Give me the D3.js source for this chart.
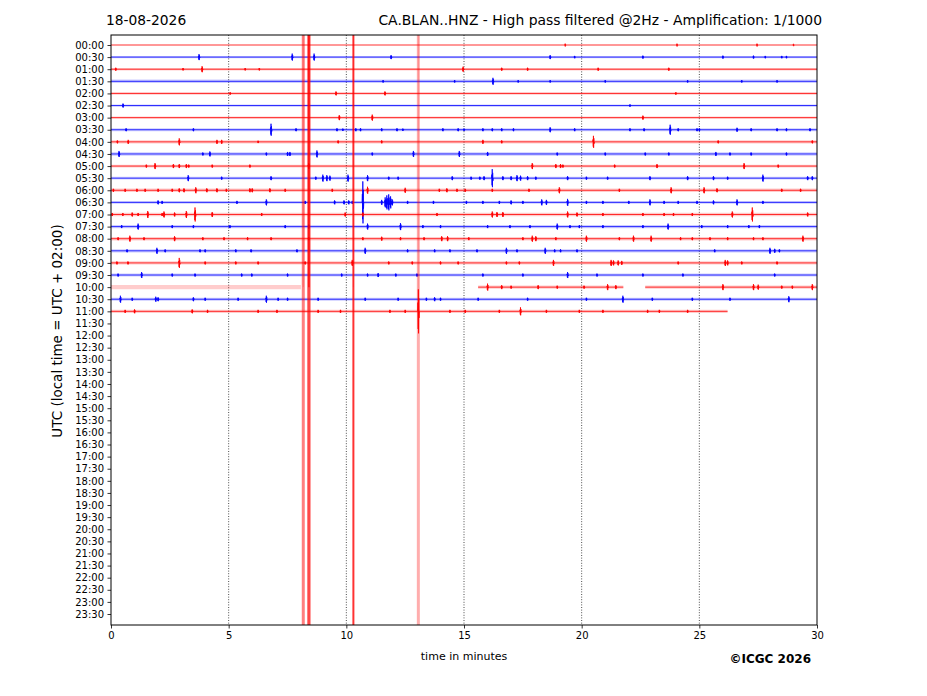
<!DOCTYPE html>
<html><head><meta charset="utf-8">
<script src="https://cdn.jsdelivr.net/npm/d3@7"></script>
<style>body{margin:0;background:#fff} svg{display:block} text{font-family:"DejaVu Sans",sans-serif}</style>
</head><body><svg id="c" width="927" height="696"></svg>
<script>
// ---------------- DATA ----------------
const rowLabels = ["00:00","00:30","01:00","01:30","02:00","02:30","03:00","03:30","04:00","04:30","05:00","05:30","06:00","06:30","07:00","07:30","08:00","08:30","09:00","09:30","10:00","10:30","11:00","11:30","12:00","12:30","13:00","13:30","14:00","14:30","15:00","15:30","16:00","16:30","17:00","17:30","18:00","18:30","19:00","19:30","20:00","20:30","21:00","21:30","22:00","22:30","23:00","23:30"];
const xTicks = [0,5,10,15,20,25,30];
const gridMinutes = [5,10,15,20,25];
const traceColors = ["#ff0000","#0000ff"];
// recorded segments per row (minutes)
const segments = [
 [[0,30]],[[0,30]],[[0,30]],[[0,30]],[[0,30]],[[0,30]],[[0,30]],[[0,30]],[[0,30]],[[0,30]],
 [[0,30]],[[0,30]],[[0,30]],[[0,30]],[[0,30]],[[0,30]],[[0,30]],[[0,30]],[[0,30]],[[0,30]],
 [[0,8.07],[15.6,21.77],[22.7,30]],[[0,30]],[[0,26.2]]
];
// background noise level per row (counts)
const noise = [0.4,0.8,0.9,1.5,0.9,0.8,0.9,1.1,1.4,1.5,1.1,1,1.4,1.1,1.5,1.4,1.4,1.3,1.3,1.2,1.3,1.3,1.3];
// events per row: [minute, amplitude in counts]
const events = [
 [[19.3,1.5],[24.05,1.5],[27.45,1.5],[29.0,1.2]],
 [[3.74,3],[7.7,3.5],[8.63,3.5],[11.9,2],[18.66,2],[19.7,1.2],[22.6,1.5],[26.0,1.5],[27.3,1.5],[27.8,1.2],[28.5,1.2],[28.7,1.2]],
 [[0.2,1.5],[3.06,1.2],[3.87,3],[5.7,1.2],[6.3,1.2],[14.96,2.5],[16.6,1.5],[17.7,1.5],[20.7,1.5],[23.7,1.5]],
 [[11.56,1.2],[14.6,1.2],[16.23,3.5],[17.3,1.2],[18.66,1.2],[21.0,1.2],[24.5,1.2],[26.8,1.2],[28.3,1.2]],
 [[5.06,1.2],[9.56,2],[11.64,2],[24.0,1.2]],
 [[0.51,2],[22.05,1.2]],
 [[9.7,2.5],[11.1,3],[22.6,2]],
 [[0.64,1.5],[3.5,1.5],[6.8,6],[7.86,1.5],[9.6,1.5],[9.85,1.2],[10.4,1.5],[10.6,1.5],[11.5,1.5],[12.15,1.5],[12.4,1.2],[14.1,1.5],[14.75,1.5],[15.0,1.2],[15.8,1.5],[16.2,1.5],[16.6,1.5],[17.1,1.5],[18.66,2.5],[19.7,1.5],[22.05,1.5],[22.65,1.5],[23.76,5],[24.1,1.5],[24.9,1.5],[25.0,1.5],[26.6,2],[27.2,1.5],[28.3,1.5],[28.7,1.5],[29.7,1.5]],
 [[0.27,1.5],[0.73,2],[2.9,3.5],[4.5,2],[4.7,2],[6.25,1.2],[9.65,1.5],[11.5,1.5],[15.8,2],[16.6,1.5],[20.5,6],[25.8,1.5],[29.8,1.5]],
 [[0.34,3],[3.9,1.5],[4.2,2.5],[6.6,1.5],[7.5,2],[7.6,2],[8.75,3.5],[11.1,1.5],[12.85,3],[14.8,3],[16.0,2],[18.96,1.5],[21.0,1.5],[22.7,1.5],[23.7,1.5],[25.7,2],[26.3,1.5],[27.2,1.5],[28.7,1.5]],
 [[1.5,1.5],[1.87,3],[2.65,2],[2.9,2],[3.2,2],[3.3,1.5],[4.3,1.5],[5.9,1.5],[8.4,3],[17.9,3],[18.9,2],[19.1,2],[19.2,1.5],[21.4,1.5],[23.2,2],[26.9,3],[28.35,1.5]],
 [[3.28,3],[4.7,1.5],[6.8,2],[8.7,1.5],[9.0,3.5],[9.17,3],[9.3,2.5],[10.07,3.5],[10.9,3],[11.8,1.5],[12.2,1.5],[14.5,2],[15.3,1.5],[15.67,1.5],[15.85,2],[16.2,9],[16.65,2],[17.0,2],[17.25,3],[17.4,2.5],[17.7,2],[18.05,1.5],[19.4,2],[20.2,1.5],[21.1,1.5],[22.9,2],[24.5,2],[25.6,2],[26.2,1.5],[27.7,3.5],[29.6,2],[29.8,2]],
 [[0.1,1.5],[0.6,1.5],[1.1,1.5],[1.45,1.5],[2.0,1.5],[2.6,1.5],[2.9,2],[3.1,2],[3.6,3],[4.07,2],[4.5,2],[4.9,1.5],[5.9,2],[6.0,2],[6.75,2],[7.4,1.5],[9.4,1.5],[10.9,3.5],[12.5,2.5],[13.95,1.5],[14.27,2],[14.7,1.5],[15.05,1.5],[16.2,1.5],[17.76,1.5],[19.05,3],[21.6,1.5],[23.8,3],[25.2,3],[25.75,2],[28.5,1.5],[29.3,1.5]],
 [[2.0,2],[2.17,1.5],[5.35,1.5],[6.6,3],[8.25,1.5],[9.5,2],[9.9,2],[10.1,2],[10.25,1.5],[10.7,21],[11.5,2.5],[11.65,5],[11.72,7],[11.8,8],[11.88,6],[11.95,3],[12.6,1.5],[13.7,1.5],[15.1,1.5],[15.8,1.5],[16.5,1.5],[17.0,2],[17.5,1.5],[18.3,3],[18.5,2.5],[19.4,3.5],[20.2,1.5],[20.9,1.5],[22.0,1.5],[22.9,3],[23.5,1.5],[24.1,1.5],[24.9,1.5],[25.6,2],[26.6,3],[27.7,1.5]],
 [[0.05,1.5],[0.5,1.5],[0.9,2],[1.15,1.5],[1.56,3.5],[2.17,1.5],[2.25,3],[2.7,2],[3.2,3.5],[3.57,7],[4.3,2.5],[6.4,1.5],[9.95,2],[10.7,2],[13.85,1.5],[16.2,3],[16.4,2.5],[16.65,2.5],[19.4,3],[19.8,2],[20.9,1.5],[22.6,1.5],[23.5,1.5],[23.9,1.5],[24.7,1.5],[26.4,3],[27.25,7],[29.6,2]],
 [[0.45,1.5],[1.15,3],[2.6,1.5],[3.5,1.5],[5.05,1.5],[7.4,1.5],[8.4,2],[10.9,3],[12.3,3.5],[13.25,1.5],[14.0,1.5],[16.0,1.5],[16.95,1.5],[17.8,1.5],[18.96,3],[19.5,1.5],[19.9,1.5],[20.9,1.5],[22.6,1.5],[23.67,3],[25.1,1.5],[26.2,1.5],[27.1,1.5],[27.55,1.5]],
 [[0.3,1.5],[0.8,3],[1.4,1.5],[2.7,2.5],[3.9,1.5],[4.8,1.5],[5.8,1.5],[6.8,1.5],[8.4,1.5],[10.7,1.5],[11.5,2],[12.3,1.5],[13.3,1.5],[14.05,2.5],[14.3,2.5],[15.2,1.5],[17.5,1.5],[17.9,3],[18.05,2.5],[18.9,1.5],[20.2,3],[21.6,1.5],[22.2,3],[22.95,3],[24.2,1.5],[24.7,1.5],[25.45,1.5],[26.2,1.5],[27.3,1.5],[27.7,1.5],[29.4,3]],
 [[0.68,1.5],[1.95,3],[2.3,1.5],[3.78,1.5],[4.0,1.5],[5.3,1.5],[5.95,1.5],[7.9,1.5],[10.8,3],[12.6,1.5],[13.75,1.5],[14.4,1.5],[15.55,1.5],[16.8,3],[17.25,1.5],[18.45,3],[18.85,1.5],[19.1,1.5],[19.8,1.5],[25.65,1.5],[28.0,3],[28.2,2],[28.4,1.5]],
 [[0.25,1.5],[0.72,1.5],[2.9,5],[4.0,1.5],[5.3,1.5],[6.25,1.5],[8.25,1.5],[10.25,3],[11.8,1.5],[12.8,1.5],[14.0,1.5],[14.75,1.5],[16.8,1.5],[17.35,1.5],[18.8,3],[21.25,3],[21.35,2.5],[21.55,2.5],[21.7,2],[24.1,1.5],[26.1,3],[26.2,2.5],[26.8,1.5],[28.3,1.5]],
 [[0.3,1.5],[1.3,3],[2.6,1.5],[3.57,1.5],[5.55,1.5],[5.98,1.5],[7.5,1.5],[9.8,1.5],[10.9,1.5],[11.35,2],[12.1,1.5],[13.0,1.5],[15.8,1.5],[17.5,1.5],[19.4,3],[20.65,1.5],[22.6,1.5],[24.3,1.5],[28.2,1.5]],
 [[16.0,3.5],[16.6,2],[17.0,1.5],[18.15,2],[18.96,1.5],[20.1,1.5],[21.1,3],[21.45,2],[26.0,3],[27.3,3],[27.5,2.5],[28.5,1.5],[28.95,1.5],[29.8,3]],
 [[0.4,3.5],[0.9,1.5],[1.9,2.5],[2.0,2],[3.5,2],[4.0,1.5],[5.4,1.5],[6.6,3.5],[7.1,1.5],[7.5,1.5],[8.8,1.5],[10.8,1.5],[12.2,1.5],[13.4,1.5],[13.75,2],[14.0,1.5],[15.6,1.5],[17.7,1.5],[20.2,1.5],[21.75,3.5],[23.0,1.5],[24.7,1.5],[26.3,1.5],[28.8,3]],
 [[0.6,1.5],[1.0,2],[3.45,2],[4.1,1.5],[6.25,1.5],[7.05,1.5],[8.8,1.5],[9.75,1.5],[11.85,1.5],[12.5,1.5],[13.06,22],[14.4,1.5],[15.05,1.5],[16.5,1.5],[17.4,4],[18.5,1.5],[19.9,1.5],[20.9,1.5],[22.8,1.5],[23.3,1.5],[24.5,1.5]]
];
// off-scale transients (minute, row of origin) — clipped over whole plot
const transientMinutes = [8.17, 8.41, 10.30, 13.06];
const transientRows = [20, 20, 20, 22];

// ---------------- DRAW ----------------
const svg = d3.select("#c");
const L=111, R=817, T=35, B=625;
const x = d3.scaleLinear().domain([0,30]).range([L,R]);
const y = d3.scalePoint().domain(rowLabels).range([45,614]);
const amp = d3.scaleLinear().domain([-1,1]).range([1,-1]); // counts -> px offset

svg.append("defs").append("clipPath").attr("id","clip")
  .append("rect").attr("x",L).attr("y",T).attr("width",R-L).attr("height",B-T);

// grid
svg.append("g").selectAll("line").data(gridMinutes).join("line")
  .attr("x1",d=>x(d)).attr("x2",d=>x(d)).attr("y1",T).attr("y2",B)
  .attr("stroke","#000").attr("stroke-width",0.7).attr("stroke-dasharray","1,1.6");

const glyph = [[-0.03,0],[-0.018,0.4],[-0.007,-0.8],[0,1],[0.008,-1],[0.018,0.6],[0.03,-0.3],[0.042,0]];
const line = d3.line().x(d=>x(d[0])).y(d=>d[1]);

const traces = svg.append("g").attr("clip-path","url(#clip)");
segments.forEach((segs,i)=>{
  const y0 = y(rowLabels[i]);
  const col = traceColors[i%2];
  segs.forEach((s,si)=>{
    const light = (i===20 && si===0);
    // noise band
    traces.append("path").attr("d",line([[s[0],y0],[s[1],y0]])).attr("fill","none")
      .attr("stroke",col).attr("stroke-opacity",0.2)
      .attr("stroke-width",noise[i]*2+(light?1.5:0.6));
    if (light) return;
    const pts = [[s[0],y0]];
    events[i].filter(e=>e[0]>s[0] && e[0]<s[1]).sort((a,b)=>a[0]-b[0]).forEach(e=>{
      glyph.forEach(g=>pts.push([e[0]+g[0], y0+amp(g[1]*e[1])]));
    });
    pts.push([s[1],y0]);
    traces.append("path").attr("d",line(pts)).attr("fill","none")
      .attr("stroke",col).attr("stroke-opacity",i===0?0.6:0.8)
      .attr("stroke-width",1);
  });
});

// transients
const tw = [3,3.2,2,3], to=[0.5,0.72,0.8,0.32];
const tg = svg.append("g").attr("clip-path","url(#clip)");
transientMinutes.forEach((m,k)=>{
  tg.append("line").attr("x1",x(m)).attr("x2",x(m)).attr("y1",T).attr("y2",B)
    .attr("stroke","#ff0000").attr("stroke-opacity",to[k]).attr("stroke-width",tw[k]);
  tg.append("line").attr("x1",x(m)).attr("x2",x(m)).attr("y1",T).attr("y2",y(rowLabels[transientRows[k]]))
    .attr("stroke","#ff0000").attr("stroke-opacity",k===1?0.85:0.2).attr("stroke-width",k===1?1.4:1);
});

// frame
svg.append("rect").attr("x",L).attr("y",T).attr("width",R-L).attr("height",B-T)
  .attr("fill","none").attr("stroke","#000").attr("stroke-width",1);

// axes
const ya = svg.append("g").attr("transform",`translate(${L},0)`).call(d3.axisLeft(y).tickSize(3.5).tickPadding(3.5));
const xa = svg.append("g").attr("transform",`translate(0,${B})`).call(d3.axisBottom(x).tickValues(xTicks).tickFormat(d3.format("d")).tickSize(3.5).tickPadding(3.5));
[ya,xa].forEach(a=>{a.select(".domain").remove(); a.selectAll("text").attr("font-size",10).attr("font-family","DejaVu Sans").attr("fill","#000"); a.selectAll("line").attr("stroke","#000").attr("stroke-width",0.8);});

svg.append("text").attr("x",464).attr("y",660).attr("text-anchor","middle").attr("font-size",11).text("time in minutes");
svg.append("text").attr("transform","translate(62,331) rotate(-90)").attr("text-anchor","middle").attr("font-size",13.5).text("UTC (local time = UTC + 02:00)");
svg.append("text").attr("x",106).attr("y",25).attr("font-size",13.8).text("18-08-2026");
svg.append("text").attr("x",822).attr("y",25).attr("text-anchor","end").attr("font-size",13.9).text("CA.BLAN..HNZ - High pass filtered @2Hz - Amplification: 1/1000");
svg.append("text").attr("x",811).attr("y",663).attr("text-anchor","end").attr("font-size",12).attr("font-weight","bold").text("©ICGC 2026");
</script></body></html>
